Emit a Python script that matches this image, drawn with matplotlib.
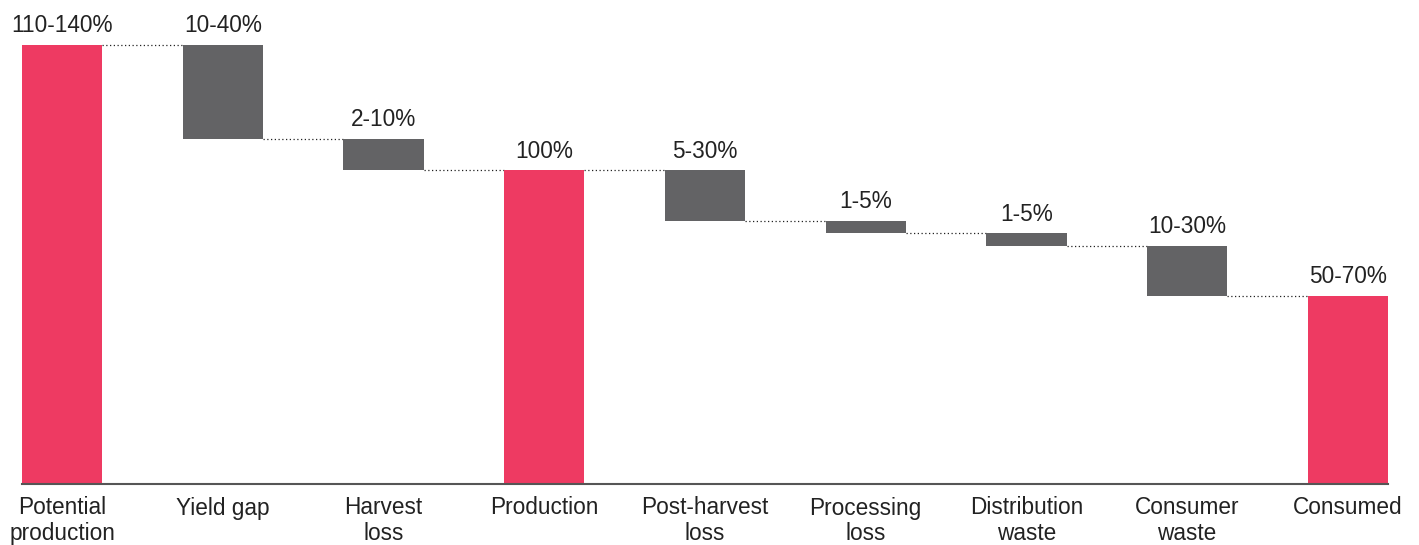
import numpy as np
import matplotlib.pyplot as plt

plt.rcParams['font.family'] = ['Liberation Sans', 'DejaVu Sans']

categories = ["Potential\nproduction", "Yield gap", "Harvest\nloss", "Production",
              "Post-harvest\nloss", "Processing\nloss", "Distribution\nwaste",
              "Consumer\nwaste", "Consumed"]
range_labels = ["110-140%", "10-40%", "2-10%", "100%", "5-30%", "1-5%", "1-5%",
                "10-30%", "50-70%"]
# totals are absolute levels, the rest are steps down from the previous level
values = [140, -30, -10, 100, -16, -4, -4, -16, 60]
is_total = [True, False, False, True, False, False, False, False, True]

PINK = "#EE3A62"
GREY = "#636365"

bottoms, tops = [], []
level = 0
for v, tot in zip(values, is_total):
    if tot:
        bottoms.append(0)
        tops.append(v)
        level = v
    else:
        tops.append(level)
        level = level + v
        bottoms.append(level)
bottoms = np.array(bottoms)
tops = np.array(tops)
x = np.arange(len(categories))
width = 0.5

fig = plt.figure(figsize=(14.19, 5.45), dpi=100)
ax = fig.add_axes([22 / 1419, 61 / 545, 1366 / 1419, 484 / 545])

colors = [PINK if t else GREY for t in is_total]
ax.bar(x, tops - bottoms, bottom=bottoms, width=width, color=colors, zorder=2)

# dotted connectors between bars
for i in range(len(x) - 1):
    lvl = bottoms[i] if not is_total[i] else tops[i]
    ax.plot([x[i] + width / 2, x[i + 1] - width / 2], [lvl, lvl],
            color="#222222", lw=0.9, ls=(0, (1, 2)), zorder=1)

for i, lab in enumerate(range_labels):
    ax.annotate(lab, (x[i], tops[i]), xytext=(0, 9), textcoords="offset points",
                ha="center", va="baseline", fontsize=16.3, color="#222222",
                annotation_clip=False)

ax.set_xlim(-0.25, len(x) - 0.75)
ax.set_ylim(0, 154.3)
ax.set_xticks(x)
ax.set_xticklabels(categories, fontsize=16.3, color="#222222", linespacing=1.12)
ax.tick_params(axis="x", length=0, pad=9)
ax.set_yticks([])
for s in ["top", "right", "left"]:
    ax.spines[s].set_visible(False)
ax.spines["bottom"].set_color("#555555")
ax.spines["bottom"].set_linewidth(1.5)

fig.savefig("out.png", dpi=100)
